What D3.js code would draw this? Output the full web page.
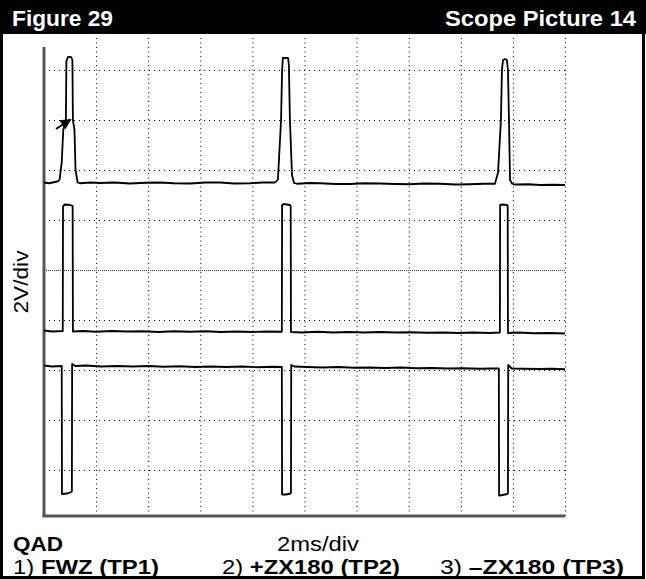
<html>
<head>
<script src="https://d3js.org/d3.v7.min.js"></script>
<style>
  body { margin: 0; background: #fff; }
  text { font-family: "Liberation Sans", Arial, Helvetica, sans-serif; }
</style>
</head>
<body>
<svg id="scope" width="646" height="579"></svg>
<script>
// 2ms/div, 10 divisions across the screen
const timeTicks = [2, 4, 6, 8, 10, 12, 14, 16, 18, 20];
// 2V/div graticule, 0 = centre line
const voltTicks = [-8, -6, -4, -2, 2, 4, 6, 8];

// 1) FWZ (TP1)  [ms, V as shown on screen]
const fwz = [[0, 3.5], [0.2, 3.47], [0.42, 3.52], [0.54, 3.55], [0.6, 3.62], [0.68, 4.3], [0.74, 5.6], [0.84, 6.0],
  [0.86, 8.35], [0.92, 8.52], [1.04, 8.52], [1.09, 8.4], [1.11, 6.0], [1.17, 5.6], [1.21, 4.0], [1.29, 3.5],
  [1.38, 3.47], [1.8, 3.5], [2.15, 3.48], [2.7, 3.5], [3.3, 3.46], [3.9, 3.49], [4.45, 3.5], [5.0, 3.47],
  [5.6, 3.46], [6.2, 3.5], [6.76, 3.5], [7.3, 3.46], [7.91, 3.47], [8.4, 3.5], [8.87, 3.5], [8.98, 3.62],
  [9.1, 6.0], [9.14, 8.0], [9.17, 8.48], [9.37, 8.48], [9.4, 8.2], [9.44, 6.0], [9.52, 3.8], [9.6, 3.48],
  [9.71, 3.45], [10.2, 3.48], [10.6, 3.47], [11.2, 3.44], [11.75, 3.44], [12.3, 3.47], [12.9, 3.46],
  [13.5, 3.44], [14.05, 3.43], [14.6, 3.46], [15.2, 3.45], [15.8, 3.42], [16.35, 3.43], [16.9, 3.45],
  [17.31, 3.45], [17.43, 3.9], [17.54, 6.0], [17.58, 8.0], [17.62, 8.4], [17.7, 8.44], [17.77, 8.4],
  [17.81, 8.0], [17.85, 6.0], [17.89, 3.6], [17.97, 3.45], [18.08, 3.42], [18.6, 3.43], [19.04, 3.4],
  [19.5, 3.41], [20, 3.4]];

// 2) +ZX180 (TP2)
const zxPlus = [[0, -2.42], [0.3, -2.46], [0.72, -2.44], [0.73, 2.55], [0.8, 2.62], [1.0, 2.6], [1.1, 2.56],
  [1.11, -2.46], [1.5, -2.44], [2.0, -2.47], [2.6, -2.44], [3.2, -2.46], [3.8, -2.45], [4.4, -2.48],
  [5.0, -2.45], [5.6, -2.47], [6.2, -2.45], [6.8, -2.48], [7.4, -2.46], [8.0, -2.48], [8.6, -2.46],
  [9.13, -2.47], [9.14, 2.6], [9.2, 2.64], [9.44, 2.6], [9.47, 2.56], [9.48, -2.48], [9.9, -2.5],
  [10.5, -2.47], [11.1, -2.5], [11.7, -2.48], [12.3, -2.5], [12.9, -2.48], [13.5, -2.5], [14.1, -2.49],
  [14.7, -2.51], [15.3, -2.5], [15.9, -2.52], [16.5, -2.5], [17.1, -2.52], [17.5, -2.5], [17.51, 2.6],
  [17.6, 2.62], [17.78, 2.6], [17.8, 2.56], [17.81, -2.52], [18.2, -2.5], [18.8, -2.53], [19.4, -2.52],
  [20, -2.54]];

// 3) -ZX180 (TP3)
const zxMinus = [[0, -3.82], [0.3, -3.86], [0.68, -3.84], [0.69, -8.96], [0.9, -8.94], [1.05, -8.88],
  [1.07, -8.84], [1.08, -3.76], [1.2, -3.84], [1.6, -3.82], [2.2, -3.86], [2.8, -3.84], [3.4, -3.86],
  [4.0, -3.84], [4.6, -3.87], [5.2, -3.85], [5.8, -3.88], [6.4, -3.86], [7.0, -3.88], [7.6, -3.86],
  [8.2, -3.89], [8.8, -3.87], [9.13, -3.88], [9.14, -8.98], [9.3, -8.98], [9.46, -8.94], [9.48, -8.9],
  [9.49, -3.8], [9.6, -3.86], [10.1, -3.88], [10.7, -3.9], [11.3, -3.88], [11.9, -3.91], [12.5, -3.9],
  [13.1, -3.92], [13.7, -3.9], [14.3, -3.93], [14.9, -3.92], [15.5, -3.94], [16.1, -3.93], [16.7, -3.95],
  [17.2, -3.94], [17.46, -3.94], [17.47, -9.02], [17.6, -9.0], [17.79, -8.96], [17.81, -8.92],
  [17.82, -3.8], [17.95, -3.94], [18.4, -3.95], [19.0, -3.96], [19.5, -3.95], [20, -3.97]];

// arrow marking the trigger point on trace 1
const arrowPts = [[0.46, 5.64], [1.02, 6.02]];

const svg = d3.select("#scope");
const x = d3.scaleLinear().domain([0, 20]).range([44, 565]);
const y = d3.scaleLinear().domain([-10, 10]).range([520, 20]);

// header bar
svg.append("rect").attr("x", 0).attr("y", 0).attr("width", 646).attr("height", 34).attr("fill", "#000");
svg.append("text").attr("x", 12).attr("y", 26).attr("fill", "#fff")
  .attr("textLength", 101).attr("lengthAdjust", "spacingAndGlyphs")
  .style("font-size", "22px").style("font-weight", "bold").text("Figure 29");
svg.append("text").attr("x", 445).attr("y", 26).attr("fill", "#fff")
  .attr("textLength", 191).attr("lengthAdjust", "spacingAndGlyphs")
  .style("font-size", "22px").style("font-weight", "bold").text("Scope Picture 14");

// graticule
const grid = svg.append("g");
grid.selectAll("line.v").data(timeTicks).enter().append("line")
  .attr("x1", d => x(d) + 0.5).attr("x2", d => x(d) + 0.5)
  .attr("y1", 38).attr("y2", 516)
  .attr("stroke", "#000").attr("stroke-width", 1).attr("stroke-dasharray", "1,3.5");
grid.selectAll("line.h").data(voltTicks).enter().append("line")
  .attr("x1", x(0)).attr("x2", x(20))
  .attr("y1", d => y(d) + 0.5).attr("y2", d => y(d) + 0.5)
  .attr("stroke", "#000").attr("stroke-width", 1).attr("stroke-dasharray", "1,4");
grid.append("line")
  .attr("x1", x(0)).attr("x2", x(20)).attr("y1", y(0) + 0.5).attr("y2", y(0) + 0.5)
  .attr("stroke", "#444").attr("stroke-width", 1).attr("stroke-dasharray", "1,1");

// left and bottom screen edges
svg.append("line").attr("x1", x(0)).attr("x2", x(0)).attr("y1", 47).attr("y2", 517)
  .attr("stroke", "#555").attr("stroke-width", 3);
svg.append("line").attr("x1", x(0) - 1.5).attr("x2", x(20)).attr("y1", 516).attr("y2", 516)
  .attr("stroke", "#555").attr("stroke-width", 3);

// traces
const line = d3.line().x(d => x(d[0])).y(d => y(d[1]));
svg.selectAll("path.trace").data([fwz, zxPlus, zxMinus]).enter().append("path")
  .attr("class", "trace")
  .attr("d", line)
  .attr("fill", "none").attr("stroke", "#000").attr("stroke-width", 1.8)
  .attr("stroke-linejoin", "round");

// arrow
svg.append("defs").append("marker").attr("id", "head")
  .attr("viewBox", "0 0 10 10").attr("refX", 9).attr("refY", 5)
  .attr("markerWidth", 5.5).attr("markerHeight", 5.5).attr("orient", "auto")
  .append("path").attr("d", "M0,0L10,5L0,10z").attr("fill", "#000");
svg.append("path").attr("d", line(arrowPts))
  .attr("stroke", "#000").attr("stroke-width", 2).attr("marker-end", "url(#head)");

// axis labels
svg.append("text").attr("transform", "translate(28," + 282 + ") rotate(-90)")
  .attr("text-anchor", "middle").attr("textLength", 63).attr("lengthAdjust", "spacingAndGlyphs")
  .style("font-size", "21px").text("2V/div");
svg.append("text").attr("x", 277).attr("y", 551)
  .attr("textLength", 82).attr("lengthAdjust", "spacingAndGlyphs")
  .style("font-size", "21px").text("2ms/div");
svg.append("text").attr("x", 13).attr("y", 551)
  .attr("textLength", 50).attr("lengthAdjust", "spacingAndGlyphs")
  .style("font-size", "21px").style("font-weight", "bold").text("QAD");

// legend
const legend = [["1) ", "FWZ (TP1)", 13, 146], ["2) ", "+ZX180 (TP2)", 222, 178], ["3) ", "\u2013ZX180 (TP3)", 440, 184]];
legend.forEach(d => {
  const t = svg.append("text").attr("x", d[2]).attr("y", 574).style("font-size", "21px")
    .attr("textLength", d[3]).attr("lengthAdjust", "spacingAndGlyphs");
  t.append("tspan").text(d[0]);
  t.append("tspan").style("font-weight", "bold").text(d[1]);
});

// outer frame
svg.append("rect").attr("x", 1.5).attr("y", 1.5).attr("width", 642).attr("height", 576)
  .attr("fill", "none").attr("stroke", "#000").attr("stroke-width", 3);
</script>
</body>
</html>
